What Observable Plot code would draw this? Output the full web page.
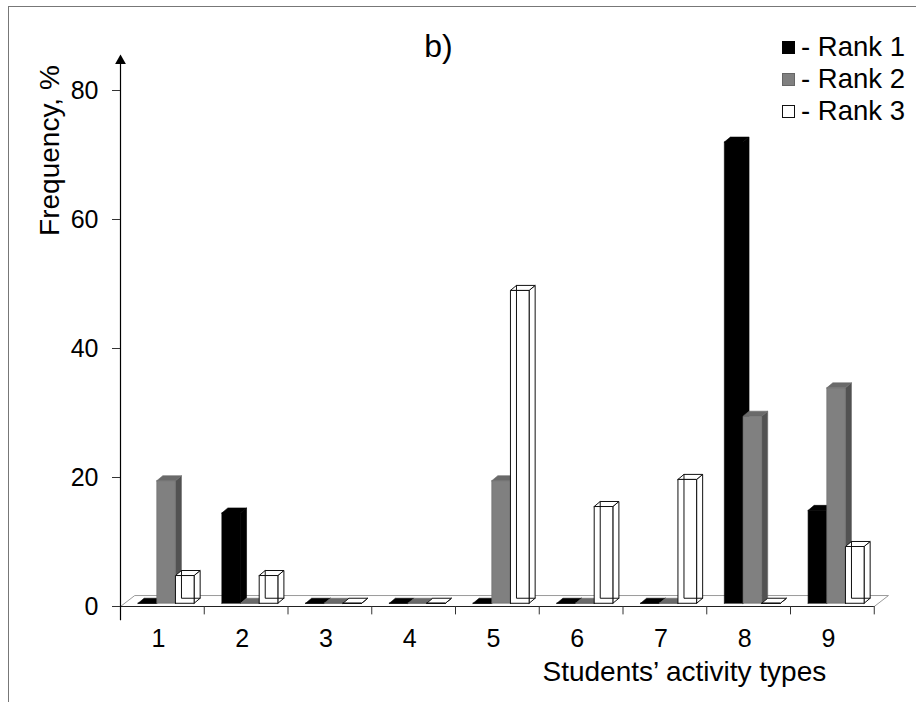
<!DOCTYPE html>
<html><head><meta charset="utf-8">
<script src="https://cdn.jsdelivr.net/npm/d3@7"></script>
<script src="https://cdn.jsdelivr.net/npm/@observablehq/plot@0.6"></script>
<style>
html,body{margin:0;padding:0;background:#fff;}
#wrap{position:relative;width:916px;height:702px;overflow:hidden;font-family:"Liberation Sans",Arial,sans-serif;}
#border{position:absolute;left:8px;top:6px;width:1000px;height:1000px;border-left:1.5px solid #777;border-top:1.5px solid #777;}
#chart{position:absolute;left:0;top:0;}
#legend{position:absolute;left:782px;top:31px;font-size:27.5px;color:#000;}
.item{display:flex;align-items:center;height:32px;white-space:nowrap;}
.sw{width:13px;height:13px;margin-right:6px;box-sizing:border-box;}
</style></head><body>
<div id="wrap"><div id="border"></div><div id="chart"></div><div id="legend"></div></div>
<script>
// ---- data ----
const categories = [1, 2, 3, 4, 5, 6, 7, 8, 9];
const seriesNames = ["Rank 1", "Rank 2", "Rank 3"];
const rank1 = [0, 14, 0, 0, 0, 0, 0, 71.5, 14.4];
const rank2 = [19, 0, 0, 0, 19, 0, 0, 29, 33.4];
const rank3 = [4.3, 4.3, 0, 0, 48.5, 15, 19.2, 0, 8.8];
const yTicks = [0, 20, 40, 60, 80];
const title = "b)";
const xLabel = "Students\u2019 activity types";
const yLabel = "Frequency, %";

// ---- styling / pseudo-3D geometry (in scale units) ----
const xDomain = [0.5, 9.5];
const yDomain = [0, 86];
const groupOffset = 0.21, barW = 0.223, depthX = 0.072, depthY = 0.78, baseY = 0.5;
const floorDX = 0.17, floorDY = 1.7;
const frontFill = ["#000", "#808080", "#fff"];
const sideFill = ["#000", "#525252", "#fff"];
const topFill = ["#000", "#6a6a6a", "#fff"];
const edgeStroke = ["#000", "#6a6a6a", "#111"];
const edgeWidth = [0.6, 0.6, 1];

const series = [rank1, rank2, rank3];
const faces = {front: [[], [], []], side: [[], [], []], top: [[], [], []], hidden: []};
categories.forEach((c, i) => {
  series.forEach((vals, r) => {
    const v = vals[i];
    const x1 = c - 0.5 + groupOffset + r * barW, x2 = x1 + barW;
    const y0 = baseY, y1 = baseY + v;
    const id = `${c}-${r}`;
    const poly = (arr, pts) => pts.forEach(([x, y]) => arr.push({x, y, id}));
    poly(faces.front[r], [[x1, y0], [x2, y0], [x2, y1], [x1, y1], [x1, y0]]);
    poly(faces.side[r], [[x2, y0], [x2 + depthX, y0 + depthY], [x2 + depthX, y1 + depthY], [x2, y1], [x2, y0]]);
    poly(faces.top[r], [[x1, y1], [x2, y1], [x2 + depthX, y1 + depthY], [x1 + depthX, y1 + depthY], [x1, y1]]);
    if (r === 2 && v > 0) {
      poly(faces.hidden, [[x1 + depthX, y1 + depthY], [x1 + depthX, y0 + depthY], [x2 + depthX, y0 + depthY]]);
    }
  });
});
const floor = [
  {x: xDomain[0], y: 0}, {x: xDomain[1], y: 0},
  {x: xDomain[1] + floorDX, y: floorDY}, {x: xDomain[0] + floorDX, y: floorDY}, {x: xDomain[0], y: 0}
];
const boundaries = categories.map(c => c + 0.5);

const faceMarks = [];
for (const kind of ["side", "top", "front"]) {
  const fills = kind === "side" ? sideFill : kind === "top" ? topFill : frontFill;
  for (let r = 0; r < 3; r++) {
    faceMarks.push(Plot.line(faces[kind][r], {
      x: "x", y: "y", z: "id", fill: fills[r],
      stroke: edgeStroke[r], strokeWidth: edgeWidth[r], strokeLinejoin: "miter"
    }));
  }
}

const chart = Plot.plot({
  width: 916, height: 702,
  marginLeft: 120, marginRight: 42.25, marginTop: 51.3, marginBottom: 96,
  x: {domain: xDomain},
  y: {domain: yDomain},
  style: {fontFamily: "'Liberation Sans', Arial, sans-serif", color: "#000", background: "transparent", overflow: "visible"},
  marks: [
    Plot.line(floor, {x: "x", y: "y", fill: "#fff", stroke: "#9a9a9a", strokeWidth: 1}),
    ...faceMarks,
    Plot.line(faces.hidden, {x: "x", y: "y", z: "id", stroke: "#111", strokeWidth: 1}),
    Plot.ruleY([0], {x1: xDomain[0], x2: xDomain[1], stroke: "#222", strokeWidth: 1.2}),
    Plot.ruleX(boundaries, {y1: 0, y2: -1.3, stroke: "#333", strokeWidth: 1}),
    Plot.ruleX([xDomain[0]], {y1: -2.2, y2: 84.6, stroke: "#000", strokeWidth: 1.2}),
    Plot.dot([xDomain[0]], {x: d => d, y: () => 84.6, symbol: "triangle", r: 4, fill: "#000", stroke: "none"}),
    Plot.axisY(yTicks, {tickSize: 8, tickPadding: 14, fontSize: 25, label: null, stroke: "#333"}),
    Plot.axisX(categories, {tickSize: 0, tickPadding: 23, fontSize: 25, dx: -4, label: null}),
    Plot.text([title], {frameAnchor: "top", lineAnchor: "middle", dx: -59, dy: -5, fontSize: 32, fill: "#000"}),
    Plot.text([xLabel], {frameAnchor: "bottom", lineAnchor: "middle", textAnchor: "middle", dx: 187, dy: 66, fontSize: 28, fill: "#000"}),
    Plot.text([yLabel], {frameAnchor: "left", lineAnchor: "middle", textAnchor: "middle", dx: -70, dy: -178.6, rotate: -90, fontSize: 28, fill: "#000"})
  ]
});
document.getElementById("chart").appendChild(chart);

const legend = document.getElementById("legend");
const swatchStyles = [
  "background:#000;",
  "background:#808080;border:1px solid #666;",
  "background:#fff;border:1px solid #111;"
];
seriesNames.forEach((name, i) => {
  const item = document.createElement("div");
  item.className = "item";
  item.innerHTML = `<div class="sw" style="${swatchStyles[i]}"></div><span>- ${name}</span>`;
  legend.appendChild(item);
});
</script>
</body></html>
